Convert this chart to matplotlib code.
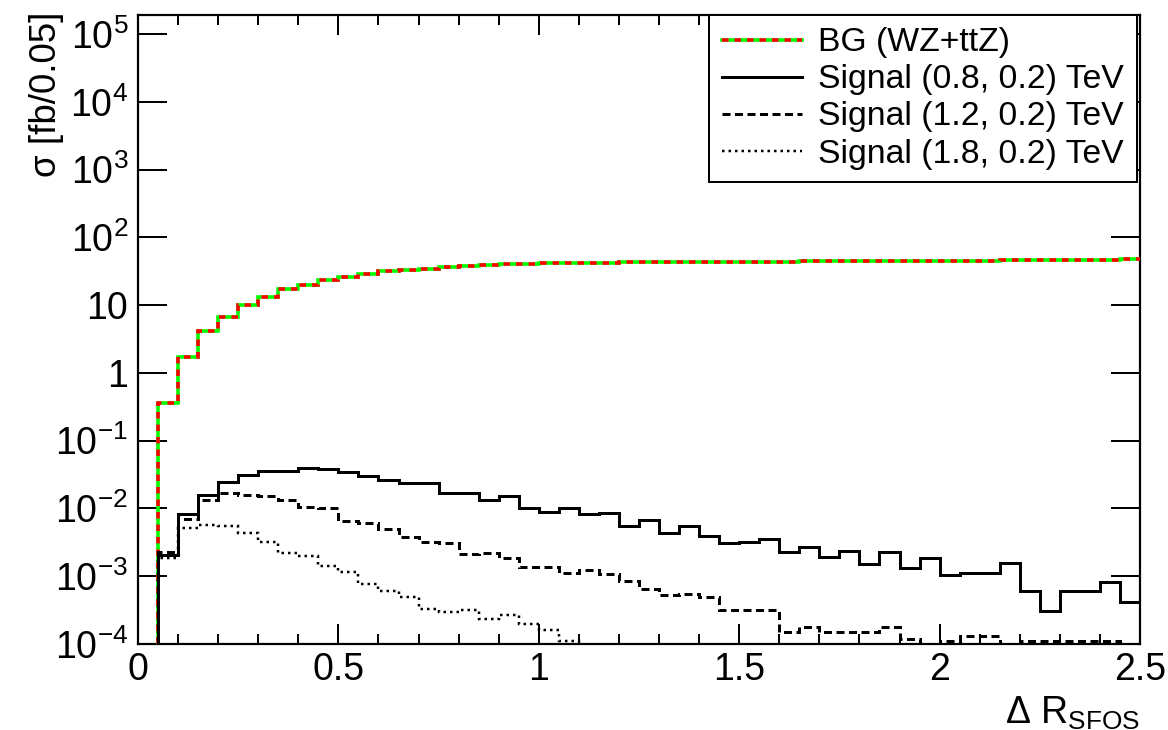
import numpy as np
import matplotlib
matplotlib.use("Agg")
import matplotlib.pyplot as plt
from matplotlib.lines import Line2D
from matplotlib.legend_handler import HandlerTuple

plt.rcParams['font.family'] = ['Liberation Sans', 'DejaVu Sans']
plt.rcParams['mathtext.fontset'] = 'custom'
plt.rcParams['mathtext.rm'] = 'Liberation Sans'
plt.rcParams['mathtext.it'] = 'Liberation Sans'
plt.rcParams['mathtext.default'] = 'regular'
plt.rcParams['lines.scale_dashes'] = False

# ---------------- data ----------------
bin_edges = np.linspace(0.0, 2.5, 51)   # 50 bins of width 0.05 in Delta R_SFOS

bg_wz_ttz = [1e-6, 0.36, 1.69, 4.1, 6.7, 9.9, 13.3, 17.2, 20.0, 23.4,
             26.2, 28.7, 31.5, 32.8, 34.3, 36.3, 37.6, 38.9, 39.8, 40.3,
             41.2, 41.6, 42.2, 42.5, 42.6, 42.8, 43.0, 43.1, 43.3, 43.5,
             43.6, 43.8, 43.9, 44.1, 44.2, 44.4, 44.5, 44.7, 44.9, 45.0,
             45.2, 45.4, 45.5, 45.7, 45.9, 46.1, 46.3, 46.6, 46.8, 47.1]

sig_08 = [1e-6, 2.06e-3, 8.2e-3, 1.58e-2, 2.48e-2, 3.11e-2, 3.60e-2, 3.60e-2, 3.98e-2, 3.77e-2,
          3.48e-2, 3.00e-2, 2.62e-2, 2.39e-2, 2.39e-2, 1.71e-2, 1.71e-2, 1.33e-2, 1.54e-2, 1.01e-2,
          8.9e-3, 1.01e-2, 8.3e-3, 8.5e-3, 5.6e-3, 6.8e-3, 4.4e-3, 5.6e-3, 3.9e-3, 3.1e-3,
          3.2e-3, 3.5e-3, 2.25e-3, 2.67e-3, 1.94e-3, 2.38e-3, 1.51e-3, 2.25e-3, 1.31e-3, 1.87e-3,
          1.04e-3, 1.13e-3, 1.13e-3, 1.55e-3, 6.1e-4, 3.1e-4, 6.1e-4, 6.1e-4, 8.2e-4, 4.1e-4]

sig_12 = [1e-6, 2.25e-3, 6.9e-3, 1.34e-2, 1.67e-2, 1.58e-2, 1.54e-2, 1.33e-2, 1.06e-2, 1.0e-2,
          6.6e-3, 6.0e-3, 5.0e-3, 3.8e-3, 3.2e-3, 3.06e-3, 2.13e-3, 2.22e-3, 1.87e-3, 1.35e-3,
          1.35e-3, 1.13e-3, 1.23e-3, 1.07e-3, 8.6e-4, 6.5e-4, 5.3e-4, 5.4e-4, 5.0e-4, 3.2e-4,
          3.2e-4, 3.2e-4, 1.52e-4, 1.76e-4, 1.52e-4, 1.52e-4, 1.52e-4, 1.76e-4, 1.2e-4, 5e-5,
          1.1e-4, 1.3e-4, 1.3e-4, 5e-5, 1.1e-4, 1.1e-4, 1.1e-4, 1.1e-4, 1.1e-4, 5e-5]

sig_18 = [1e-6, 1.87e-3, 5.1e-3, 5.7e-3, 5.6e-3, 4.3e-3, 3.2e-3, 2.2e-3, 2.0e-3, 1.41e-3,
          1.16e-3, 7.6e-4, 6.0e-4, 5.0e-4, 3.3e-4, 3.0e-4, 3.2e-4, 2.3e-4, 2.7e-4, 2.0e-4,
          1.6e-4, 1.1e-4, 5e-5, 5e-5, 5e-5, 5e-5, 5e-5, 5e-5, 5e-5, 5e-5,
          5e-5, 5e-5, 5e-5, 5e-5, 5e-5, 5e-5, 5e-5, 5e-5, 5e-5, 5e-5,
          5e-5, 5e-5, 5e-5, 5e-5, 5e-5, 5e-5, 5e-5, 5e-5, 5e-5, 5e-5]

legend_labels = ['BG (WZ+ttZ)', 'Signal (0.8, 0.2) TeV',
                 'Signal (1.2, 0.2) TeV', 'Signal (1.8, 0.2) TeV']
y_tick_vals = [1e-4, 1e-3, 1e-2, 1e-1, 1, 10, 1e2, 1e3, 1e4, 1e5]
y_tick_labels = ['10$^{-4}$', '10$^{-3}$', '10$^{-2}$', '10$^{-1}$', '1', '10',
                 '10$^{2}$', '10$^{3}$', '10$^{4}$', '10$^{5}$']
x_tick_vals = [0, 0.5, 1, 1.5, 2, 2.5]
x_tick_labels = ['0', '0.5', '1', '1.5', '2', '2.5']

# ---------------- figure ----------------
fig = plt.figure(figsize=(11.68, 7.30), dpi=100)
ax = fig.add_axes([138/1168, 1-644/730, (1140-138)/1168, (644-14.5)/730])
ax.set_yscale('log')
ax.set_xlim(0, 2.5)
ax.set_ylim(1e-4, 1.94e5)

px = 0.72  # points per pixel at dpi 100
bg_dash = (0, (6.5*px, 6.0*px))
dash_style = (0, (8*px, 4.5*px))
dot_style = (0, (2.5*px, 4.0*px))

ax.stairs(bg_wz_ttz, bin_edges, baseline=None, color='#00ff00', lw=3.6*px, zorder=3)
ax.stairs(bg_wz_ttz, bin_edges, baseline=None, color='#ff0000', lw=3.6*px,
          linestyle=bg_dash, zorder=4)
ax.stairs(sig_08, bin_edges, baseline=None, color='black', lw=3.0*px, zorder=5)
ax.stairs(sig_12, bin_edges, baseline=None, color='black', lw=3.0*px,
          linestyle=dash_style, zorder=5)
ax.stairs(sig_18, bin_edges, baseline=None, color='black', lw=2.5*px,
          linestyle=dot_style, zorder=5)

# legend proxies
lg_g = Line2D([], [], color='#00ff00', lw=3.6*px)
lg_r = Line2D([], [], color='#ff0000', lw=3.6*px, linestyle=bg_dash)
lg_s = Line2D([], [], color='black', lw=3.0*px)
lg_d = Line2D([], [], color='black', lw=3.0*px, linestyle=dash_style)
lg_o = Line2D([], [], color='black', lw=2.5*px, linestyle=dot_style)
leg = ax.legend([(lg_g, lg_r), lg_s, lg_d, lg_o], legend_labels,
                handler_map={tuple: HandlerTuple(ndivide=1, pad=0)},
                loc='upper right', bbox_to_anchor=(0.997, 1.0), borderaxespad=0,
                fontsize=24.3, frameon=True, fancybox=False, framealpha=1,
                edgecolor='black', handlelength=2.35, handletextpad=0.5,
                labelspacing=0.18, borderpad=0.38)
leg.get_frame().set_linewidth(2.0*px)
leg.set_zorder(10)

# ticks
ax.set_yticks(y_tick_vals)
ax.set_yticklabels(y_tick_labels)
ax.yaxis.set_minor_locator(matplotlib.ticker.LogLocator(base=10, subs=np.arange(2, 10)))
ax.yaxis.set_minor_formatter(matplotlib.ticker.NullFormatter())
ax.set_xticks(x_tick_vals)
ax.set_xticklabels(x_tick_labels)
ax.xaxis.set_minor_locator(matplotlib.ticker.MultipleLocator(0.1))
ax.tick_params(axis='both', which='both', direction='in', top=True, right=True,
               width=2*px, labelsize=27)
ax.tick_params(axis='y', which='major', length=29*px, pad=7)
ax.tick_params(axis='y', which='minor', length=15*px)
ax.tick_params(axis='x', which='major', length=20*px, pad=6)
ax.tick_params(axis='x', which='minor', length=10*px)
for sp in ax.spines.values():
    sp.set_linewidth(2.2*px)

fig.text(46/1168, 1-12/730, 'σ [fb/0.05]', rotation=90, ha='center', va='top', fontsize=26.5)
fig.text(1140/1168, 1-724/730, r'$\Delta$ R$_{\mathregular{SFOS}}$', ha='right', va='baseline',
         fontsize=27)

fig.savefig('out.png', dpi=100)
